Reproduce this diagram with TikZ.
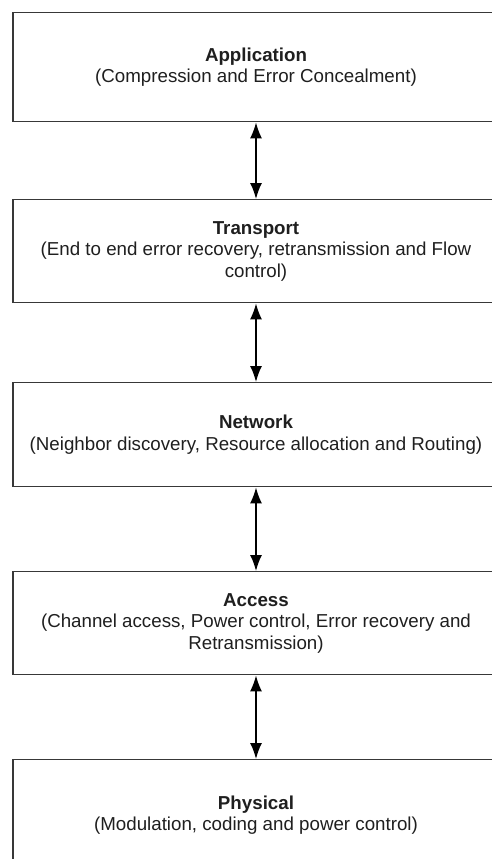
\documentclass[tikz,border=0pt]{standalone}
\usepackage{fontspec}
\setmainfont{Liberation Sans}
\usetikzlibrary{arrows.meta}

\begin{document}
\begin{tikzpicture}[x=1bp,y=-1bp,
  layer/.style={draw=black!78, line width=1.4bp, fill=white,
    minimum width=486bp, anchor=north, inner sep=0pt, align=center,
    text=black!88, font={\fontsize{18.8}{21.5}\selectfont}},
  biarrow/.style={line width=1.5bp, black,
    {Latex[length=16bp,width=12bp]}-{Latex[length=16bp,width=12bp]}}]
  \useasboundingbox (0,0) rectangle (492,859);

  % protocol layers, top to bottom
  \node[layer, minimum height=109bp] (app) at (256,12)
    {\textbf{Application}\\(Compression and Error Concealment)};
  \node[layer, minimum height=103bp] (tra) at (256,199)
    {\textbf{Transport}\\(End to end error recovery, retransmission and Flow\\control)};
  \node[layer, minimum height=104bp] (net) at (256,382)
    {\textbf{Network}\\(Neighbor discovery, Resource allocation and Routing)};
  \node[layer, minimum height=103bp] (acc) at (256,571)
    {\textbf{Access}\\(Channel access, Power control, Error recovery and\\Retransmission)};
  \node[layer, minimum height=111bp] (phy) at (256,759)
    {\textbf{Physical}\\(Modulation, coding and power control)};

  % interactions between adjacent layers
  \draw[biarrow] (app.south) -- (tra.north);
  \draw[biarrow] (tra.south) -- (net.north);
  \draw[biarrow] (net.south) -- (acc.north);
  \draw[biarrow] (acc.south) -- (phy.north);
\end{tikzpicture}
\end{document}
